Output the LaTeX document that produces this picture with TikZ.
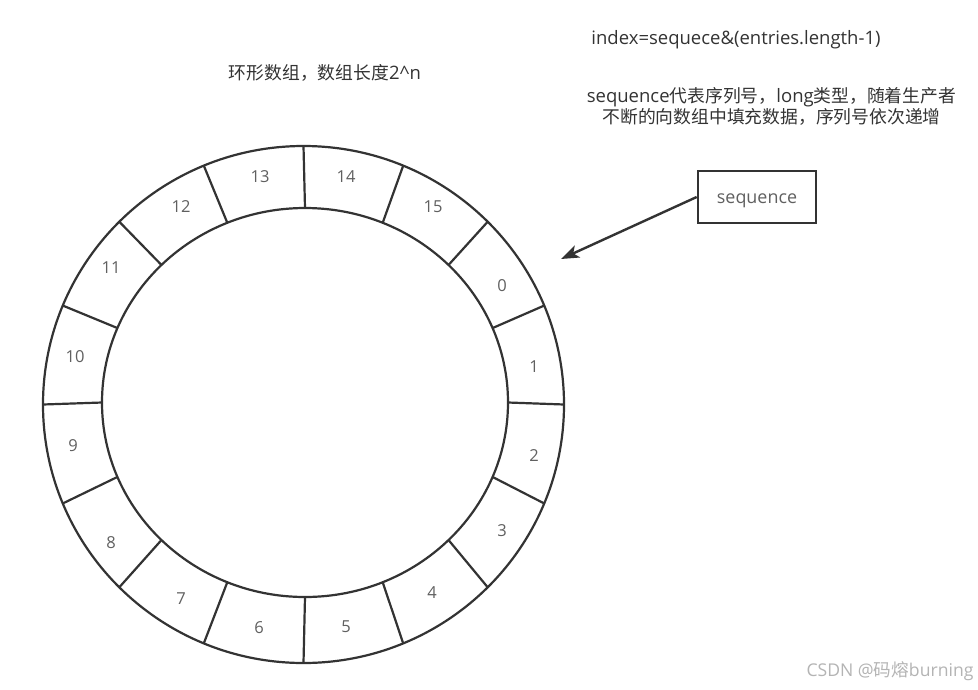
\documentclass[tikz,border=0pt]{standalone}
\usepackage{fontspec}
\setmainfont{Open Sans}
\newfontfamily\cjk{Noto Sans CJK SC}
\newcommand\zhtext[1]{{\cjk\fontsize{17.8}{21}\selectfont #1}}
\usetikzlibrary{arrows.meta}
\definecolor{ln}{HTML}{333333}
\definecolor{tx}{HTML}{333333}
\definecolor{lb}{HTML}{606060}
\definecolor{wm}{HTML}{B4B4B4}
\tikzset{
  ring/.style={draw=ln, line width=2.2pt},
  slotlabel/.style={text=lb, font=\fontsize{16.5}{18}\selectfont, inner sep=0pt},
  note/.style={text=tx, font=\fontsize{18.5}{21}\selectfont, inner sep=0pt, align=center},
  seqbox/.style={draw=ln, line width=2.6pt, minimum width=118pt, minimum height=52pt, text=lb, font=\fontsize{17.9}{20}\selectfont, text height=12.6pt, text depth=0pt},
  pointer/.style={draw=ln, line width=2.4pt, -{Stealth[length=18pt,width=13pt,inset=4.5pt]}}
}
\begin{document}
\begin{tikzpicture}[x=1pt,y=-1pt]
\useasboundingbox (0,0) rectangle (978,689);
\fill[white] (0,0) rectangle (978,689);
% ring
\draw[ring] (303.5,404.5) ellipse [x radius=260.5pt, y radius=258.5pt];
\draw[ring] (305,402.5) ellipse [x radius=203pt, y radius=194.5pt];
\foreach \a in {0,22.5,...,337.5}
  \draw[ring] ({305+203*cos(\a)},{402.5-194.5*sin(\a)}) -- ({303.5+260.5*cos(\a)},{404.5-258.5*sin(\a)});
% slot labels
\node[slotlabel] (s0)  at (502,286) {0};
\node[slotlabel] (s1)  at (534,367) {1};
\node[slotlabel] (s2)  at (534,456) {2};
\node[slotlabel] (s3)  at (502,531) {3};
\node[slotlabel] (s4)  at (432,593) {4};
\node[slotlabel] (s5)  at (346,627) {5};
\node[slotlabel] (s6)  at (259,628) {6};
\node[slotlabel] (s7)  at (181,599) {7};
\node[slotlabel] (s8)  at (111,543) {8};
\node[slotlabel] (s9)  at (73,446) {9};
\node[slotlabel] (s10) at (75,357) {10};
\node[slotlabel] (s11) at (111,268) {11};
\node[slotlabel] (s12) at (181,207) {12};
\node[slotlabel] (s13) at (260,177) {13};
\node[slotlabel] (s14) at (346,177) {14};
\node[slotlabel] (s15) at (433,207) {15};
% texts
\node[note] (formula) at (736,40) {index=sequece\&(entries.length-1)};
\node[note] (title) at (325,73) {\zhtext{环形数组，数组长度}2\textasciicircum n};
\node[note] (desc) at (771.5,106) {sequence\zhtext{代表序列号，}long\zhtext{类型，随着生产者}\\\zhtext{不断的向数组中填充数据，序列号依次递增}};
% sequence box and arrow
\node[seqbox] (seq) at (757,197) {sequence};
\coordinate (tip) at (561,259);
\draw[pointer] (seq.west) -- (tip);
% watermark
\node[text=wm, font=\fontsize{17.6}{18}\selectfont, inner sep=0pt] (wmark) at (890,671) {CSDN @{\cjk 码熔}burning};
\end{tikzpicture}
\end{document}
